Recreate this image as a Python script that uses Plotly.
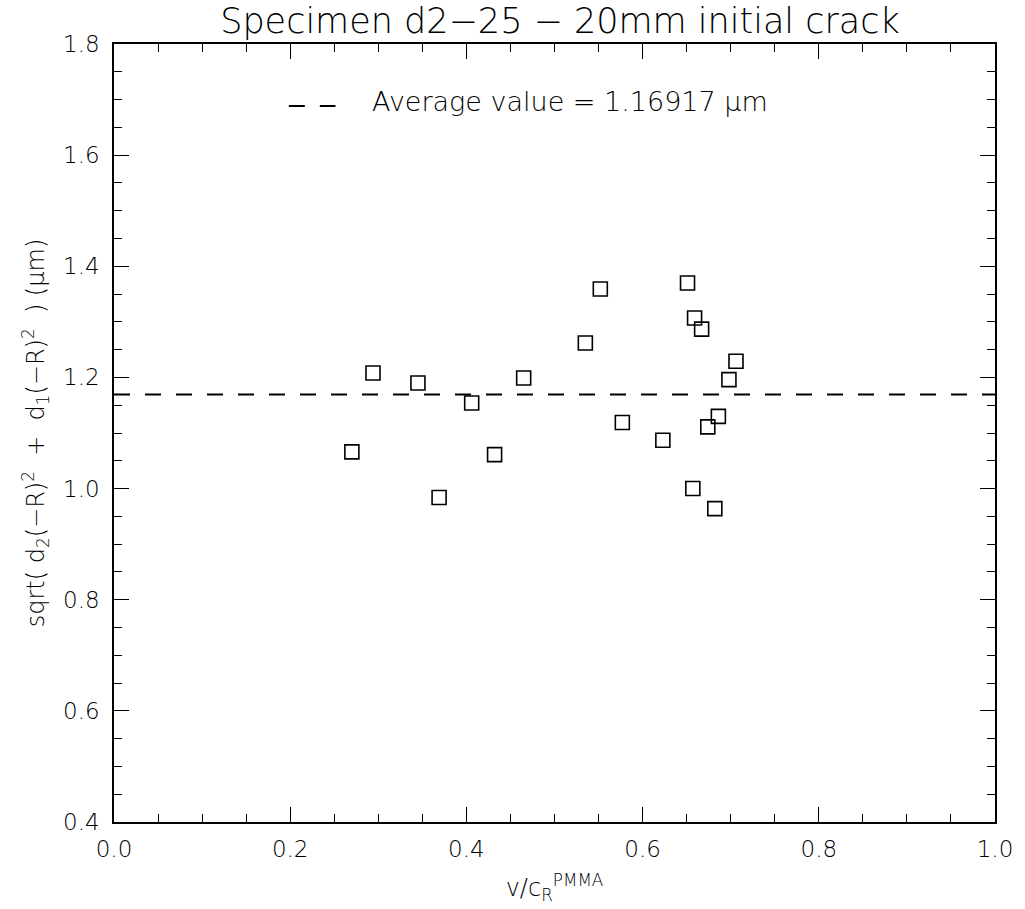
import plotly.graph_objects as go

# Data
x_vals = [0.270, 0.294, 0.345, 0.369, 0.406, 0.432, 0.465, 0.535, 0.552, 0.577,
          0.623, 0.651, 0.659, 0.667, 0.657, 0.682, 0.686, 0.674, 0.698, 0.706]
y_vals = [1.066, 1.208, 1.190, 0.984, 1.154, 1.061, 1.199, 1.262, 1.359, 1.119,
          1.087, 1.370, 1.307, 1.287, 1.000, 0.964, 1.130, 1.111, 1.196, 1.229]
avg_value = 1.16917
avg_x = [0.0, 1.0]

x_ticks = [0.0, 0.2, 0.4, 0.6, 0.8, 1.0]
y_ticks = [0.4, 0.6, 0.8, 1.0, 1.2, 1.4, 1.6, 1.8]

FONT = "DejaVu Sans"
W = 300

FIG_W, FIG_H = 1025, 909
L, R, T, B = 114, 24, 44, 86
PW = FIG_W - L - R
PH = FIG_H - T - B

fig = go.Figure()
fig.add_trace(go.Scatter(
    x=avg_x, y=[avg_value] * len(avg_x), mode="lines",
    line=dict(color="black", width=2, dash="16px,15px"),
    showlegend=False, hoverinfo="skip"))
fig.add_trace(go.Scatter(
    x=x_vals, y=y_vals, mode="markers",
    marker=dict(symbol="square-open", size=14, color="black",
                line=dict(color="black", width=1.6)),
    showlegend=False))

axis_common = dict(
    showgrid=False, zeroline=False, showline=True, linecolor="black",
    linewidth=1.5, mirror="allticks", ticks="inside", ticklen=15,
    tickwidth=1.3, tickcolor="black",
    tickfont=dict(family=FONT, size=23, color="black", weight=W),
)

fig.update_layout(
    width=FIG_W, height=FIG_H,
    paper_bgcolor="white", plot_bgcolor="white",
    margin=dict(l=L, r=R, t=T, b=B),
    title=dict(text="Specimen d2\u221225 \u2212 20mm initial crack",
               x=560 / FIG_W, xanchor="center", y=1 - 21 / FIG_H, yanchor="middle",
               font=dict(family=FONT, size=35, color="black", weight=W)),
    xaxis=dict(range=[0, 1], tickvals=x_ticks,
               ticktext=[f"{v:.1f}" for v in x_ticks],
               ticklabelstandoff=6, ticklabeloverflow="allow",
               minor=dict(dtick=0.05, ticks="inside", ticklen=8,
                          tickcolor="black", tickwidth=1.2),
               title=dict(text="v/c<sub>R</sub><sup>PMMA</sup>", standoff=18,
                          font=dict(family=FONT, size=24, color="black", weight=W)),
               **axis_common),
    yaxis=dict(range=[0.4, 1.8], tickvals=y_ticks,
               ticktext=[f"{v:.1f}" for v in y_ticks],
               ticklabelstandoff=8,
               minor=dict(dtick=0.05, ticks="inside", ticklen=8,
                          tickcolor="black", tickwidth=1.2),
               title=dict(text="sqrt( d<sub>2</sub>(\u2212R)<sup>2</sup>  +  d<sub>1</sub>(\u2212R)<sup>2</sup>  ) (\u03bcm)",
                          standoff=12,
                          font=dict(family=FONT, size=24, color="black", weight=W)),
               **axis_common),
)

# legend-like key for the average line (positions relative to the plot area)
fig.add_shape(type="line", xref="paper", yref="paper",
              x0=(290 - L) / PW, x1=(337 - L) / PW,
              y0=(FIG_H - B - 106) / PH, y1=(FIG_H - B - 106) / PH,
              line=dict(color="black", width=2, dash="16px,15px"))
fig.add_annotation(xref="paper", yref="paper",
                   x=(372 - L) / PW, y=(FIG_H - B - 102) / PH,
                   xanchor="left", yanchor="middle", showarrow=False,
                   text=f"Average value = {avg_value} \u03bcm",
                   font=dict(family=FONT, size=27, color="black", weight=W))

# remove the browser's default 8px page margin so the figure fills the window
fig.write_html("out.html",
               config={"displayModeBar": False},
               post_script="document.body.style.margin='0';"
                           "document.body.style.overflow='hidden';")
